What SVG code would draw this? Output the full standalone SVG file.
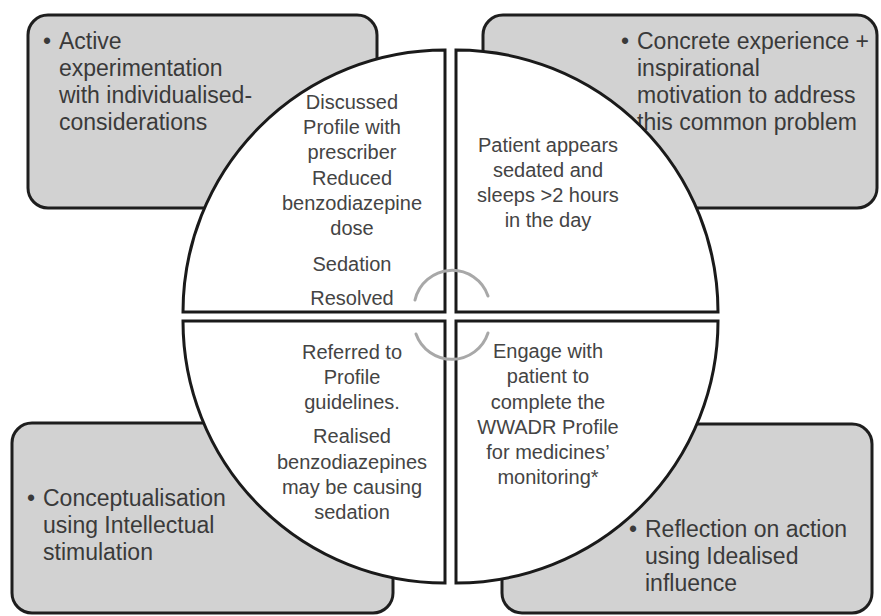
<svg xmlns="http://www.w3.org/2000/svg" width="881" height="616" viewBox="0 0 881 616">
<style>
.box{fill:#d2d2d2;stroke:#1e1e1e;stroke-width:3}
.quad{fill:#ffffff;stroke:#1a1a1a;stroke-width:3;stroke-linejoin:miter}
.bt{font-family:"Liberation Sans",Arial,sans-serif;font-size:23px;fill:#3a3a3a}
.qt{font-family:"Liberation Sans",Arial,sans-serif;font-size:20px;fill:#444444;text-anchor:middle}
.arc{fill:none;stroke:#a8a8a8;stroke-width:3;stroke-linecap:round}
</style>
<rect width="881" height="616" fill="#ffffff"/>
<g id="box-tl">
<rect class="box" x="28" y="15" width="349" height="193" rx="20"/>
<text class="bt" x="43" y="49">•</text>
<text class="bt"><tspan x="59" y="49">Active</tspan><tspan x="59" y="76">experimentation</tspan><tspan x="59" y="103">with individualised-</tspan><tspan x="59" y="130">considerations</tspan></text>
</g>
<g id="box-tr">
<rect class="box" x="483" y="15" width="394" height="193" rx="20"/>
<text class="bt" x="621" y="49">•</text>
<text class="bt"><tspan x="637" y="49">Concrete experience +</tspan><tspan x="637" y="76">inspirational</tspan><tspan x="637" y="103">motivation to address</tspan><tspan x="637" y="130">this common problem</tspan></text>
</g>
<g id="box-bl">
<rect class="box" x="12" y="423" width="381" height="190" rx="20"/>
<text class="bt" x="27" y="506">•</text>
<text class="bt"><tspan x="43" y="506">Conceptualisation</tspan><tspan x="43" y="533">using Intellectual</tspan><tspan x="43" y="560">stimulation</tspan></text>
</g>
<g id="box-br">
<rect class="box" x="502" y="424" width="370" height="189" rx="20"/>
<text class="bt" x="629" y="537">•</text>
<text class="bt"><tspan x="645" y="537">Reflection on action</tspan><tspan x="645" y="564">using Idealised</tspan><tspan x="645" y="591">influence</tspan></text>
</g>
<g id="quad-tl">
<path class="quad" d="M445,312 L183,312 A262,262 0 0 1 445,50 Z"/>
<text class="qt"><tspan x="352" y="109">Discussed</tspan><tspan x="352" y="134">Profile with</tspan><tspan x="352" y="159">prescriber</tspan><tspan x="352" y="185">Reduced</tspan><tspan x="352" y="210">benzodiazepine</tspan><tspan x="352" y="235">dose</tspan><tspan x="352" y="271">Sedation</tspan><tspan x="352" y="305">Resolved</tspan></text>
</g>
<g id="quad-tr">
<path class="quad" d="M456,312 L456,50 A262,262 0 0 1 718,312 Z"/>
<text class="qt"><tspan x="548" y="152">Patient appears</tspan><tspan x="548" y="177">sedated and</tspan><tspan x="548" y="202">sleeps &gt;2 hours</tspan><tspan x="548" y="227">in the day</tspan></text>
</g>
<g id="quad-bl">
<path class="quad" d="M445,321 L445,583 A262,262 0 0 1 183,321 Z"/>
<text class="qt"><tspan x="352" y="359">Referred to</tspan><tspan x="352" y="384">Profile</tspan><tspan x="352" y="409">guidelines.</tspan><tspan x="352" y="443">Realised</tspan><tspan x="352" y="469">benzodiazepines</tspan><tspan x="352" y="494">may be causing</tspan><tspan x="352" y="519">sedation</tspan></text>
</g>
<g id="quad-br">
<path class="quad" d="M456,321 L718,321 A262,262 0 0 1 456,583 Z"/>
<text class="qt"><tspan x="548" y="358">Engage with</tspan><tspan x="548" y="383">patient to</tspan><tspan x="548" y="409">complete the</tspan><tspan x="548" y="434">WWADR Profile</tspan><tspan x="548" y="459">for medicines’</tspan><tspan x="548" y="484">monitoring*</tspan></text>
</g>
<g id="connectors">
<path class="arc" d="M415,300 A38,38 0 0 1 488,296"/>
<path class="arc" d="M416,334 A38,38 0 0 0 488,333"/>
</g>
</svg>
